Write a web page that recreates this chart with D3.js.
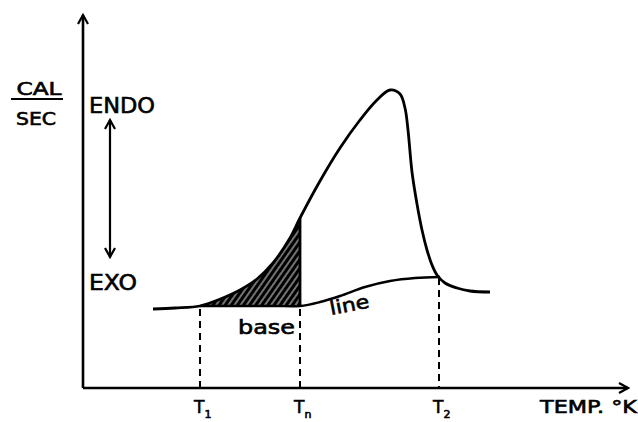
<!DOCTYPE html>
<head>
<meta charset="utf-8">
<script src="https://d3js.org/d3.v7.min.js"></script>
<style>
  body { margin: 0; background: #fff; }
  text { font-family: "DejaVu Sans", sans-serif; fill: #000; stroke: #000; stroke-width: 0.6; }
</style>
</head>
<body>
<script>
const width = 638, height = 422;

// axis frame, read in picture units (origin at the corner of the axes)
const xMax = 545, yMax = 373;

// DSC trace: temperature offset, heat flow
const peakX = [70, 92, 117, 135, 157, 174, 190, 207, 217, 237, 257, 277, 294, 307, 317, 322, 325, 329, 334, 339, 344, 349, 354, 362, 374, 387, 407];
const peakY = [79, 80, 82, 88, 98, 109, 125, 150, 170, 207, 240, 268, 288, 298, 294, 280, 258, 216, 184, 158, 138, 123, 113, 105, 100, 97, 96];

// base line under the peak
const baseX = [117, 142, 167, 192, 217, 237, 257, 282, 307, 332, 357];
const baseY = [82, 82, 82, 82, 82, 86, 92, 101, 107, 110, 111];

// marked temperatures
const markNames = ["1", "n", "2"];
const markX = [117, 217, 356];

const x = d3.scaleLinear().domain([0, xMax]).range([83, 628]);
const y = d3.scaleLinear().domain([0, yMax]).range([388, 15]);

const peak = peakX.map((d, i) => [d, peakY[i]]);
const base = baseX.map((d, i) => [d, baseY[i]]);

const svg = d3.select("body").append("svg")
    .attr("width", width).attr("height", height);

const defs = svg.append("defs");
defs.append("marker")
    .attr("id", "head").attr("viewBox", "-10 -6 12 12")
    .attr("markerWidth", 12).attr("markerHeight", 12)
    .attr("markerUnits", "userSpaceOnUse")
    .attr("orient", "auto-start-reverse")
    .append("path").attr("d", "M-9,-5L0,0L-9,5")
    .attr("fill", "none").attr("stroke", "#000").attr("stroke-width", 2.2);

const pat = defs.append("pattern")
    .attr("id", "hatch").attr("patternUnits", "userSpaceOnUse")
    .attr("width", 5).attr("height", 5)
    .attr("patternTransform", "rotate(35)");
pat.append("rect").attr("width", 5).attr("height", 5).attr("fill", "#000");
pat.append("line").attr("x1", 2).attr("y1", 0).attr("x2", 2).attr("y2", 5)
    .attr("stroke", "#fff").attr("stroke-width", 0.9);

// axes
svg.append("line")
    .attr("x1", x(0)).attr("y1", y(0)).attr("x2", x(0)).attr("y2", y(yMax))
    .attr("stroke", "#000").attr("stroke-width", 2.6).attr("marker-end", "url(#head)");
svg.append("line")
    .attr("x1", x(0)).attr("y1", y(0)).attr("x2", x(xMax)).attr("y2", y(0))
    .attr("stroke", "#000").attr("stroke-width", 2.6).attr("marker-end", "url(#head)");

// shaded part of the peak, from T1 to Tn
const curveF = d3.curveCatmullRom.alpha(0.5);
const interp = (pts, t) => {
  for (let i = 1; i < pts.length; i++) {
    if (t <= pts[i][0]) {
      const a = pts[i - 1], b = pts[i], f = (t - a[0]) / (b[0] - a[0]);
      return a[1] + f * (b[1] - a[1]);
    }
  }
  return pts[pts.length - 1][1];
};
const shade = peakX.filter(d => d >= markX[0] && d <= markX[1])
    .map(t => ({ t, hi: interp(peak, t), lo: interp(base, t) }));
svg.append("path").datum(shade)
    .attr("d", d3.area().curve(curveF).x(d => x(d.t)).y0(d => y(d.lo)).y1(d => y(d.hi)))
    .attr("fill", "url(#hatch)");
svg.append("line")
    .attr("x1", x(markX[1])).attr("x2", x(markX[1]))
    .attr("y1", y(interp(base, markX[1]))).attr("y2", y(interp(peak, markX[1])))
    .attr("stroke", "#000").attr("stroke-width", 2.8);

// curves
const line = d3.line().curve(curveF).x(d => x(d[0])).y(d => y(d[1]));
svg.append("path").datum(peak).attr("d", line)
    .attr("fill", "none").attr("stroke", "#000").attr("stroke-width", 2.8);
svg.append("path").datum(base).attr("d", line)
    .attr("fill", "none").attr("stroke", "#000").attr("stroke-width", 2.4);

// dashed drop lines and labels
markX.forEach((m, i) => {
  const top = i === 2 ? interp(base, m) - 1 : interp(base, m) - 3;
  svg.append("line")
      .attr("x1", x(m)).attr("x2", x(m)).attr("y1", y(top)).attr("y2", y(0))
      .attr("stroke", "#000").attr("stroke-width", 2).attr("stroke-dasharray", "7,5");
  const t = svg.append("text").attr("x", x(m) - 6).attr("y", 413)
      .attr("font-size", 17);
  t.append("tspan").text("T");
  t.append("tspan").attr("font-size", 11).attr("dy", 5).text(markNames[i]);
});

// y label
svg.append("text").attr("x", 39).attr("y", 95).attr("text-anchor", "middle")
    .attr("font-size", 17).attr("textLength", 45).attr("lengthAdjust", "spacingAndGlyphs").text("CAL");
svg.append("line").attr("x1", 11).attr("x2", 63).attr("y1", 99).attr("y2", 99)
    .attr("stroke", "#000").attr("stroke-width", 2);
svg.append("text").attr("x", 36).attr("y", 125).attr("text-anchor", "middle")
    .attr("font-size", 17).attr("textLength", 40).attr("lengthAdjust", "spacingAndGlyphs").text("SEC");

svg.append("text").attr("x", 89).attr("y", 113).attr("font-size", 21)
    .attr("textLength", 66).attr("lengthAdjust", "spacingAndGlyphs").text("ENDO");
svg.append("text").attr("x", 89).attr("y", 290).attr("font-size", 21)
    .attr("textLength", 48).attr("lengthAdjust", "spacingAndGlyphs").text("EXO");
svg.append("line").attr("x1", 110).attr("x2", 110).attr("y1", 120).attr("y2", 257)
    .attr("stroke", "#000").attr("stroke-width", 2.2)
    .attr("marker-start", "url(#head)").attr("marker-end", "url(#head)");

svg.append("text").attr("x", 238).attr("y", 334).attr("font-size", 19)
    .attr("textLength", 57).attr("lengthAdjust", "spacingAndGlyphs").text("base");
svg.append("text").attr("transform", "translate(331,315) rotate(-11)")
    .attr("font-size", 19).attr("textLength", 40).attr("lengthAdjust", "spacingAndGlyphs").text("line");

svg.append("text").attr("x", 540).attr("y", 413).attr("font-size", 17)
    .attr("textLength", 97).attr("lengthAdjust", "spacingAndGlyphs").text("TEMP. °K");
</script>
</body>
